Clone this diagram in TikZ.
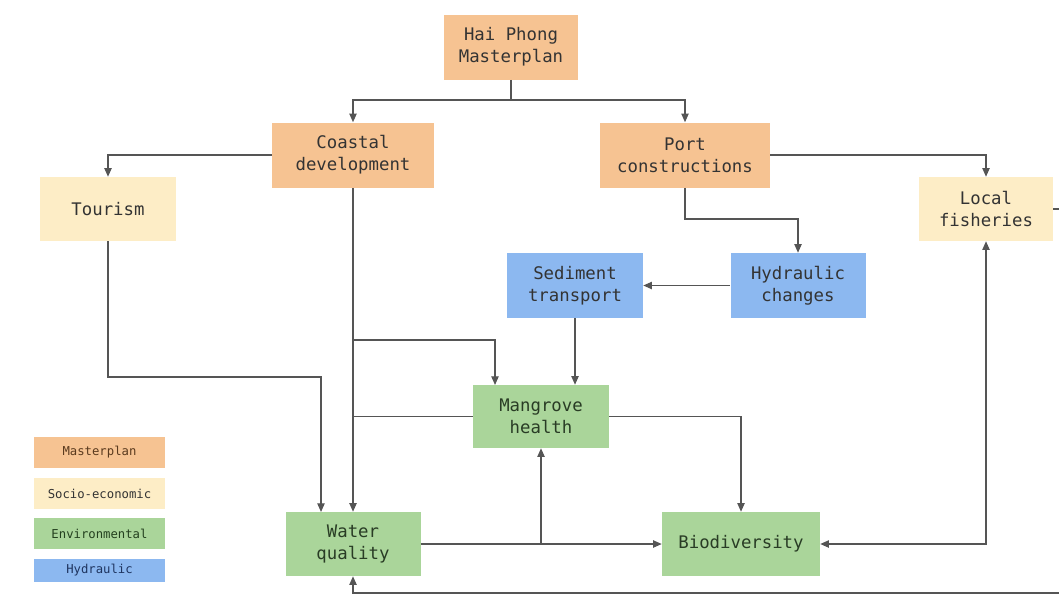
\documentclass[tikz,border=0pt]{standalone}
\usepackage{fontspec}
\usetikzlibrary{arrows.meta}
\newfontfamily\monof{DejaVu Sans Mono}
\definecolor{orangebox}{HTML}{F6C392}
\definecolor{yellowbox}{HTML}{FDEDC6}
\definecolor{greenbox}{HTML}{AAD59A}
\definecolor{bluebox}{HTML}{8CB8F0}
\definecolor{linec}{HTML}{555555}
\definecolor{textc}{HTML}{333333}
\definecolor{orangetext}{HTML}{5A3A1E}
\definecolor{greentext}{HTML}{24401F}
\definecolor{bluetext}{HTML}{1F3560}
\tikzset{
  box/.style={rectangle, inner sep=0pt, align=center, text=textc,
    font=\monof\fontsize{13}{16.5}\selectfont, minimum height=48.75pt},
  master/.style={box, fill=orangebox},
  socio/.style={box, fill=yellowbox},
  envi/.style={box, fill=greenbox, text=greentext!70!textc},
  hydro/.style={box, fill=bluebox},
  legbox/.style={rectangle, inner sep=0pt, minimum width=98.25pt, minimum height=23.25pt,
    font=\monof\fontsize{9.2}{10}\selectfont},
  arr/.style={draw=linec, line width=0.9pt, -{Triangle[length=6.5pt,width=5.5pt]}},
  arrboth/.style={draw=linec, line width=0.9pt, {Triangle[length=6.5pt,width=5.5pt]}-{Triangle[length=6.5pt,width=5.5pt]}},
  plain/.style={draw=linec, line width=0.9pt}
}
\begin{document}
\begin{tikzpicture}[x=0.75pt, y=-0.75pt]
\useasboundingbox (0,0) rectangle (1059,596);
\clip (0,0) rectangle (1059,596);
\fill[white] (0,0) rectangle (1059,596);

% nodes
\node[master, minimum width=100.5pt] (hp) at (511,47) {Hai Phong\\Masterplan};
\node[master, minimum width=121.5pt] (cd) at (353,155) {Coastal\\development};
\node[master, minimum width=127.5pt] (pc) at (685,155) {Port\\constructions};
\node[socio, minimum width=102pt, minimum height=48pt] (tour) at (108,209) {Tourism};
\node[socio, minimum width=100.5pt, minimum height=48pt] (lf) at (986,209) {Local\\fisheries};
\node[hydro, minimum width=102pt] (st) at (575,285.5) {Sediment\\transport};
\node[hydro, minimum width=101.25pt] (hc) at (798,285.5) {Hydraulic\\changes};
\node[envi, minimum width=102pt, minimum height=47.25pt] (mh) at (541,416.5) {Mangrove\\health};
\node[envi, minimum width=101.25pt, minimum height=48pt] (wq) at (353,544) {Water\\quality};
\node[envi, minimum width=118.5pt, minimum height=48pt] (bd) at (741,544) {Biodiversity};

% legend
\node[legbox, fill=orangebox, text=orangetext] (lg1) at (99.5,452.5) {Masterplan};
\node[legbox, fill=yellowbox, text=textc] (lg2) at (99.5,493.5) {Socio-economic};
\node[legbox, fill=greenbox, text=greentext] (lg3) at (99.5,533.5) {Environmental};
\node[legbox, fill=bluebox, text=bluetext, minimum height=17.25pt] (lg4) at (99.5,570.5) {Hydraulic};

% helper coordinates
\coordinate (j1) at (511,100);
\coordinate (j2) at (685,219);
\coordinate (j3) at (353,340);
\coordinate (m1) at (495,385);
\coordinate (t1) at (108,377);
\coordinate (t2) at (321,377);
\coordinate (w1) at (321,512);
\coordinate (b1) at (541,544);
\coordinate (r1) at (1070,209);
\coordinate (r2) at (1070,593);
\coordinate (r3) at (353,593);

% connectors
\draw[plain] (hp.south) -- (j1);
\draw[arr] (j1) -| (cd.north);
\draw[arr] (j1) -| (pc.north);
\draw[arr] (cd.west) -| (tour.north);
\draw[arr] (pc.east) -| (lf.north);
\draw[arr] (pc.south) -- (j2) -| (hc.north);
\draw[arr] (hc.west) -- (st.east);
\draw[arr] (st.south) -- (st.south |- mh.north);
\draw[arr] (cd.south) -- (wq.north);
\draw[arr] (j3) -| (m1);
\draw[plain] (mh.west) -- (mh.west -| cd.south);
\draw[arr] (tour.south) -- (t1) -- (t2) -- (w1);
\draw[arr] (wq.east) -- (bd.west);
\draw[arr] (b1) -- (b1 |- mh.south);
\draw[arr] (mh.east) -| (bd.north);
\draw[arrboth] (bd.east) -| (lf.south);
\draw[arr] (lf.east) -- (r1) -- (r2) -- (r3) -- (wq.south);
\end{tikzpicture}
\end{document}
